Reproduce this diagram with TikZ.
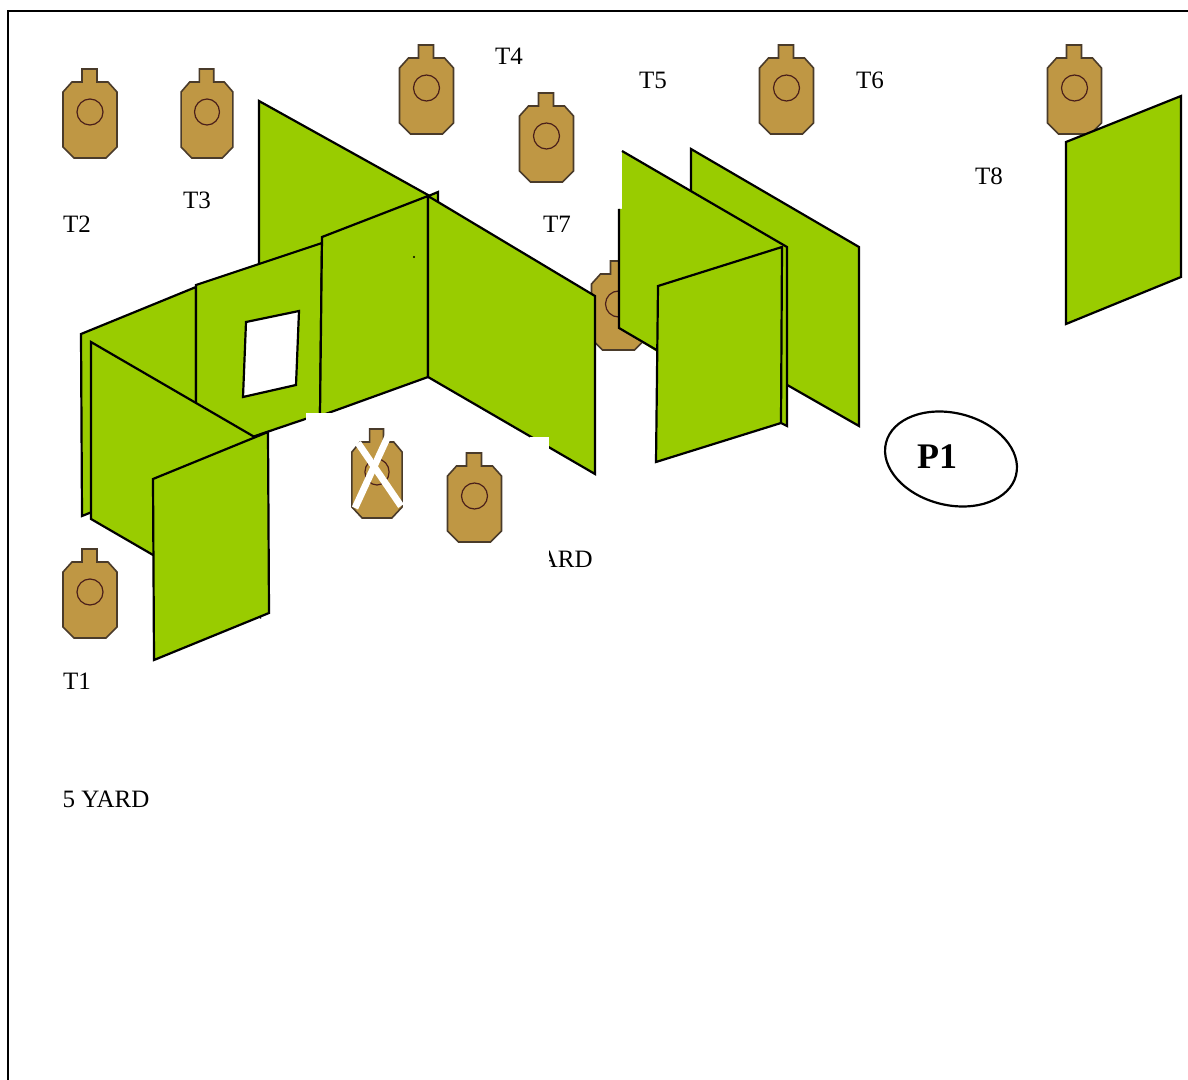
\documentclass[tikz,border=0pt]{standalone}
\usepackage{fontspec}
\setmainfont{Liberation Serif}
\definecolor{panelgreen}{HTML}{99CC00}
\definecolor{tgtfill}{HTML}{BF9744}
\definecolor{tgtline}{HTML}{4A3B2A}
\definecolor{tgtring}{HTML}{4A1F1A}
\tikzset{
  panel/.style={fill=panelgreen,draw=black,line width=1.1pt,line join=miter},
  panelfill/.style={fill=panelgreen,draw=none},
  edge/.style={draw=black,line width=1.1pt},
  lbl/.style={inner sep=0pt,font=\fontsize{12.5}{14}\selectfont},
  mask/.style={fill=white,draw=none}
}
\newcommand{\tgt}[4]{% cx, top, xscale, name
  \begin{scope}[shift={(#1,#2)},xscale=#3]
    \path[fill=tgtfill,draw=tgtline,line width=0.8pt,line join=miter]
      (-8,0)--(7,0)--(7,13)--(18,13)--(27,23)--(27,78)--(16,89)--(-16,89)--(-27,78)--(-27,23)--(-18,13)--(-8,13)--cycle;
    \path[draw=tgtring,line width=0.6pt] (0,43) circle[radius=13];
  \end{scope}
  \coordinate (#4) at (#1,#2);
}
\begin{document}
\begin{tikzpicture}[x=0.5pt,y=-0.5pt]
\path[use as bounding box] (0,0) rectangle (1188,1080);
\coordinate (fa) at (8,1080);
\coordinate (fb) at (8,11);
\coordinate (fc) at (1188,11);
\draw[edge] (fa)--(fb)--(fc);

% targets at the back
\tgt{90}{69}{1}{t2}
\tgt{207}{69}{0.96}{t3}
\tgt{426.5}{45}{1}{t4}
\tgt{546.5}{93}{1}{t5}
\tgt{786.5}{45}{1}{t6}
\tgt{1074.5}{45}{1}{t8}
\tgt{90}{549}{1}{t1}
\tgt{618.5}{261}{1}{t7}

% labels
\node[lbl] (lt4) at (509,56) {T4};
\node[lbl] (lt5) at (653,80) {T5};
\node[lbl] (lt6) at (870,80) {T6};
\node[lbl] (lt8) at (989,176) {T8};
\node[lbl] (lt7) at (557,224) {T7};
\node[lbl] (lt2) at (77,224) {T2};
\node[lbl] (lt3) at (197,200) {T3};
\node[lbl] (lt1) at (77,681) {T1};
\node[lbl] (ly5) at (106,799) {5 YARD};
\node[lbl,anchor=east] (ly) at (593,559) {ARD};

% left group
\path[panel] (259,101)--(428,195)--(428,300)--(259,300)--cycle;
\path[panel] (426,197)--(438,192)--(438,215)--(426,215)--cycle;
\path[panel] (81,334)--(196,287)--(196,470)--(82,516)--cycle;
\path[panel] (196,285)--(322,243)--(320,414)--(196,456)--cycle;
\path[fill=white,draw=black,line width=1.1pt] (246,322)--(299,311)--(296,385)--(243,397)--cycle;
\path[panel] (322,237)--(428,196)--(428,377)--(320,416)--cycle;
\path[panel] (428,196)--(595,296)--(595,474)--(428,377)--cycle;
\fill (414,257) circle[radius=1.2];
\path[panel] (91,342)--(258,439)--(260,617)--(91,519)--cycle;
\path[panel] (153,479)--(268,432)--(269,613)--(154,660)--cycle;

% white patches
\path[mask] (306,413) rectangle (337,445);
\path[mask] (530,437) rectangle (549,575);

% targets in front
\tgt{377}{429}{0.93}{tx}
\draw[white,line width=3.4pt] (358,443)--(401,506);
\draw[white,line width=3.4pt] (390,432)--(355,508);
\tgt{474.5}{453}{1}{t9}

% right group
\path[panel] (691,149)--(859,247)--(859,426)--(691,330)--cycle;
\path[panelfill] (622,151)--(787,247)--(787,426)--(657,352)--(619,328)--(619,209)--(622,209)--cycle;
\draw[edge] (622,151)--(787,247)--(787,426)--(781,423);
\draw[edge] (619,209)--(619,328)--(660,352);
\path[panel] (658,286)--(782,247)--(781,423)--(656,462)--cycle;
\path[panel] (1066,142)--(1181,96)--(1181,277)--(1066,324)--cycle;

% P1
\draw[line width=1.1pt] (951,459) ellipse[x radius=67,y radius=46,rotate=-14];
\node[inner sep=0pt,font=\fontsize{18}{20}\bfseries\selectfont] (p1) at (937,457) {P1};
\end{tikzpicture}
\end{document}
